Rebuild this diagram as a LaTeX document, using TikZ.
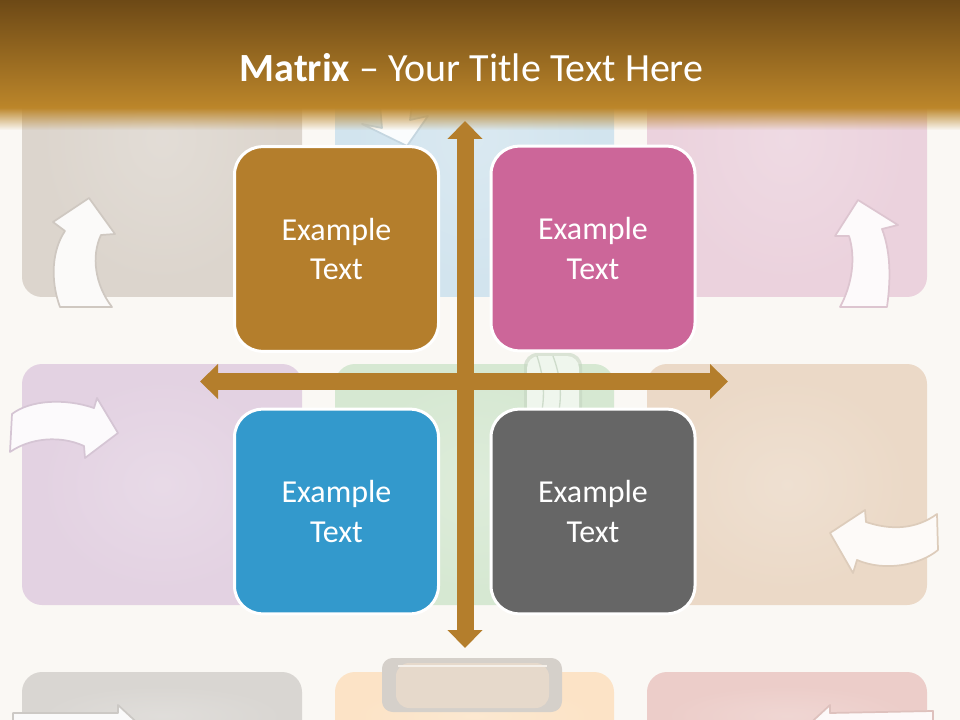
\documentclass[tikz,border=0pt]{standalone}
\usepackage{fontspec}
\setmainfont{Carlito}
\usetikzlibrary{arrows.meta,fadings}
\definecolor{bgc}{HTML}{FAF8F4}
\definecolor{cTL}{HTML}{DCD5CD}
\definecolor{cTM}{HTML}{D2E4EE}
\definecolor{cTR}{HTML}{EBD2DD}
\definecolor{cML}{HTML}{E3D2E2}
\definecolor{cMM}{HTML}{D6E8D2}
\definecolor{cMR}{HTML}{EBD9C7}
\definecolor{cBL}{HTML}{D9D6D2}
\definecolor{cBM}{HTML}{FCE3C6}
\definecolor{cBR}{HTML}{ECCDC9}
\definecolor{banTop}{HTML}{6D4916}
\definecolor{banBot}{HTML}{BC862A}
\definecolor{mBrown}{HTML}{B47E2C}
\definecolor{mPink}{HTML}{CC6699}
\definecolor{mBlue}{HTML}{3399CC}
\definecolor{mGrey}{HTML}{666666}
\definecolor{tabOut}{HTML}{D5D0CA}
\definecolor{tabIn}{HTML}{E6D9CB}
\tikzfading[name=fadedown, top color=transparent!0, bottom color=transparent!100]
\newcommand\myBgBox[5]{%
  \fill[#1, rounded corners=15pt] (#2,#3) rectangle (#4,#5);
  \shade[rounded corners=10pt, inner color=#1!82!white, outer color=#1] ({#2+18},{#3+14}) rectangle ({#4-18},{#5-14});
}
\begin{document}
\begin{tikzpicture}[x=0.75pt,y=-0.75pt,
  mbox/.style={rectangle, rounded corners=21pt, draw=white, line width=2.25pt,
    minimum width=153pt, minimum height=153.5pt, inner sep=0pt, text=white,
    align=center, font=\fontsize{24}{29.5}\selectfont},
  crossarrow/.style={draw=mBrown, line width=12.75pt,
    {Triangle[width=25.5pt,length=13.5pt]}-{Triangle[width=25.5pt,length=13.5pt]}},
  decorarrow/.style={fill=white!88!#1, draw=#1!94!black, line width=1.3pt, line join=round}]
\useasboundingbox (0,0) rectangle (960,720);
\clip (0,0) rectangle (960,720);
\fill[bgc] (0,0) rectangle (960,720);
% faded background matrix
\myBgBox{cTL}{22}{-20}{302}{297}
\myBgBox{cTM}{335}{-20}{614}{297}
\myBgBox{cTR}{647}{-20}{927}{297}
\myBgBox{cML}{22}{364}{302}{605}
\myBgBox{cMM}{335}{364}{614}{605}
\myBgBox{cMR}{647}{364}{927}{605}
\myBgBox{cBL}{22}{672}{302}{760}
\myBgBox{cBM}{335}{672}{614}{760}
\myBgBox{cBR}{647}{672}{927}{760}
% decorative arrows
\path[decorarrow=cTL] (60,307) .. controls (50,280) and (52,250) .. (65,231) -- (53,222) -- (89,198) -- (115,234) -- (101,235) .. controls (91,256) and (95,285) .. (112,307) -- cycle;
\path[decorarrow=cTR] (840,307) .. controls (852,285) and (856,258) .. (849,236) -- (835,236) -- (858,200) -- (898,225) -- (882,229) .. controls (892,255) and (890,285) .. (887,307) -- cycle;
\path[decorarrow=cML] (12,414) .. controls (30,400) and (65,398) .. (94,408) -- (97,398) -- (118,433) -- (85,458) -- (84,446) .. controls (60,435) and (30,438) .. (10,452) -- cycle;
\path[decorarrow=cMR] (937,514) .. controls (915,530) and (890,530) .. (866,522) -- (865,510) -- (830,533) -- (853,573) -- (857,560) .. controls (885,572) and (920,565) .. (938,550) -- cycle;
\path[decorarrow=cTM] (362,124) -- (382,128) -- (380,104) -- (412,104) -- (410,120) -- (428,116) -- (407,146) -- cycle;
\path[decorarrow=cBL] (13,730) -- (13,713) -- (118,713) -- (118,705) -- (145,730) -- cycle;
\path[decorarrow=cBR] (933,730) -- (933,711) -- (830,713) -- (830,705) -- (803,730) -- cycle;
% green curled tab
\fill[cMM!92!black, rounded corners=10pt, opacity=0.6] (524,353) rectangle (582,420);
\fill[white!60!cMM, rounded corners=9pt] (527,356) rectangle (579,420);
\draw[cMM!90!black, line width=1pt, opacity=0.7] (537,356) .. controls (545,380) and (545,400) .. (540,420);
\draw[cMM!90!black, line width=1pt, opacity=0.7] (553,356) .. controls (562,380) and (562,400) .. (557,420);
% bottom tab
\fill[tabOut, rounded corners=8pt] (382,658) rectangle (562,712);
\fill[tabIn, rounded corners=10pt] (396,663) -- (549,663) -- (549,708) -- (396,708) -- cycle;
\draw[white!60!tabIn, line width=2pt] (398,666) -- (547,666);
% title banner
\shade[top color=banTop, bottom color=banBot] (0,0) rectangle (960,108);
\fill[banBot, path fading=fadedown] (0,107.5) rectangle (960,130);
\node[text=white, font=\fontsize{30}{36}\selectfont, anchor=base] (title) at (471.5,82) {\textbf{Matrix} – Your Title Text Here};
% matrix boxes
\node[mbox, fill=mBrown] (tl) at (336.5,249) {Example\\Text};
\node[mbox, fill=mPink]  (tr) at (593,248.5) {Example\\Text};
\node[mbox, fill=mBlue]  (bl) at (336.5,511.5) {Example\\Text};
\node[mbox, fill=mGrey]  (br) at (593,511.5) {Example\\Text};
% cross axes
\coordinate (vtop) at (465,121);
\coordinate (vbot) at (465,648);
\coordinate (hleft) at (200,381.5);
\coordinate (hright) at (728,381.5);
\draw[crossarrow] (hleft) -- (hright);
\draw[crossarrow] (vtop) -- (vbot);
\end{tikzpicture}
\end{document}
